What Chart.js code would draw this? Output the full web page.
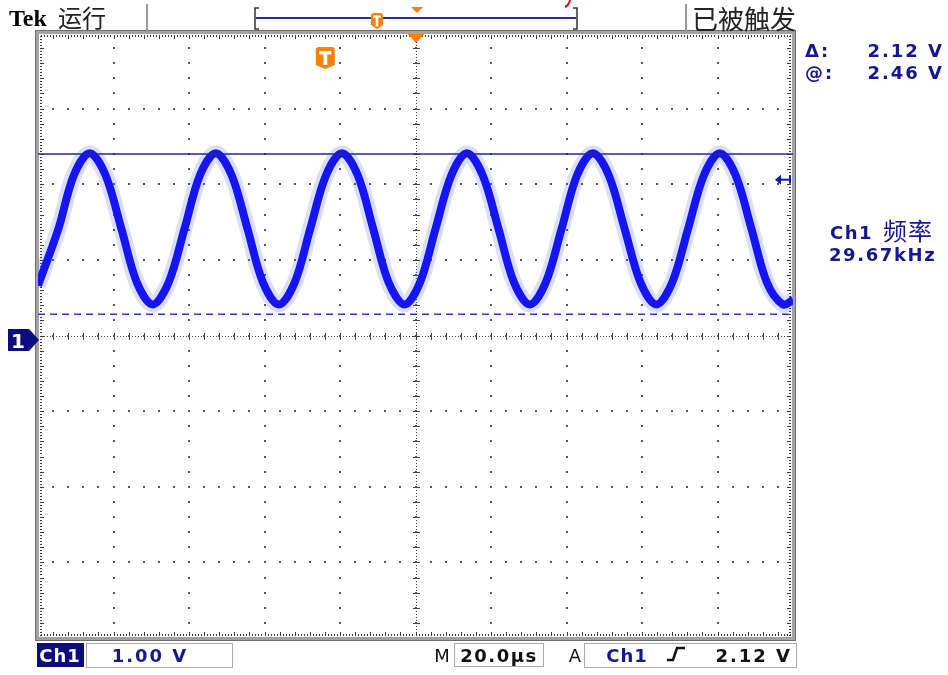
<!DOCTYPE html>
<html>
<head>
<meta charset="utf-8">
<script src="https://cdn.jsdelivr.net/npm/chart.js@4.4.0/dist/chart.umd.min.js"></script>
<style>html,body{margin:0;padding:0;background:#fff;overflow:hidden}</style>
</head>
<body>
<canvas id="scope" width="948" height="675"></canvas>
<script>
// Ch1 trace: time in us (0 = trigger / centre), volts
var timeUs = [-100, -94.6, -90.5, -86.3, -82.1, -77.9, -73.8, -69.6, -65.4, -61.2, -57.1, -52.9,
  -48.7, -44.5, -40.4, -36.2, -32.0, -27.9, -23.7, -19.5, -15.3, -11.2, -7.1, -2.9, 1.2, 5.3,
  9.5, 13.6, 17.8, 22.0, 26.1, 30.3, 34.5, 38.7, 42.8, 47.0, 51.2, 55.4, 59.6, 63.8, 68.0,
  72.2, 76.4, 80.6, 84.8, 89.0, 93.1, 97.3, 100];
var ch1Volts = [0.72, 1.47, 2.18, 2.47, 2.18, 1.47, 0.76, 0.47, 0.76, 1.47, 2.18, 2.47,
  2.18, 1.47, 0.76, 0.47, 0.76, 1.47, 2.18, 2.47, 2.18, 1.47, 0.76, 0.47, 0.76, 1.47,
  2.18, 2.47, 2.18, 1.47, 0.76, 0.47, 0.76, 1.47, 2.18, 2.47, 2.18, 1.47, 0.76, 0.47, 0.76,
  1.47, 2.18, 2.47, 2.18, 1.47, 0.76, 0.47, 0.53];

var cursorVolts = [2.46, 0.34];   // solid, dashed
var trigLevel = 2.12;
var triggerMarkUs = -23.9;        // orange T in the graticule
var xRange = [-100, 100];         // 10 div x 20 us
var yRange = [-3.94, 4.06];       // 8 div x 1 V, ground a bit below centre

var blue = '#16168f';

function wavePoints() {
  var pts = [];
  for (var i = 0; i < timeUs.length; i++) pts.push({x: timeUs[i], y: ch1Volts[i]});
  return pts;
}
function hLine(v) {
  return [{x: xRange[0], y: v}, {x: xRange[1], y: v}];
}

function txt(ctx, s, x, y, font, color, align, spacing) {
  ctx.font = font;
  ctx.fillStyle = color;
  ctx.textAlign = align || 'left';
  ctx.textBaseline = 'alphabetic';
  ctx.letterSpacing = spacing || '0px';
  ctx.fillText(s, x, y);
  ctx.letterSpacing = '0px';
}

// graticule: dotted grid, centre crosshair, ruler frame
var graticule = {
  id: 'graticule',
  beforeDatasetsDraw: function(chart) {
    var ctx = chart.ctx, xs = chart.scales.x, ys = chart.scales.y, a = chart.chartArea;
    var dx = (xRange[1] - xRange[0]) / 10, dy = (yRange[1] - yRange[0]) / 8;
    var i, j, px, py;
    ctx.save();
    ctx.fillStyle = '#555';
    // dots on major lines every 1/5 div
    for (i = 1; i < 10; i++) {
      px = Math.round(xs.getPixelForValue(xRange[0] + i * dx));
      for (j = 0; j <= 40; j++) {
        py = Math.round(ys.getPixelForValue(yRange[0] + j * dy / 5));
        ctx.fillRect(px - 1, py - 1, 2, 2);
      }
    }
    for (j = 1; j < 8; j++) {
      py = Math.round(ys.getPixelForValue(yRange[0] + j * dy));
      for (i = 0; i <= 50; i++) {
        px = Math.round(xs.getPixelForValue(xRange[0] + i * dx / 5));
        ctx.fillRect(px - 1, py - 1, 2, 2);
      }
    }
    // centre crosshair, dense dots + ticks
    var cx = Math.round(xs.getPixelForValue((xRange[0] + xRange[1]) / 2));
    var cy = Math.round(ys.getPixelForValue((yRange[0] + yRange[1]) / 2));
    ctx.fillStyle = '#444';
    for (i = 0; i <= 250; i++) {
      px = Math.round(xs.getPixelForValue(xRange[0] + i * dx / 25));
      ctx.fillRect(px, cy, 1, 1);
      if (i % 5 === 0) ctx.fillRect(px, cy - 3, 1, 7);
    }
    for (j = 0; j <= 200; j++) {
      py = Math.round(ys.getPixelForValue(yRange[0] + j * dy / 25));
      ctx.fillRect(cx, py, 1, 1);
      if (j % 5 === 0) ctx.fillRect(cx - 3, py, 7, 1);
    }
    // ruler ticks along the frame
    ctx.fillStyle = '#3a3a3a';
    for (i = 0; i <= 250; i++) {
      px = Math.round(xs.getPixelForValue(xRange[0] + i * dx / 25));
      var lx = (i % 5 === 0) ? 4 : 2;
      ctx.fillRect(px, a.top + 2, 1, lx);
      ctx.fillRect(px, a.bottom - 2 - lx, 1, lx);
    }
    for (j = 0; j <= 200; j++) {
      py = Math.round(ys.getPixelForValue(yRange[0] + j * dy / 25));
      var ly = (j % 5 === 0) ? 4 : 2;
      ctx.fillRect(a.left + 2, py, ly, 1);
      ctx.fillRect(a.right - 2 - ly, py, ly, 1);
    }
    // frame band
    ctx.strokeStyle = '#a3a3a3';
    ctx.lineWidth = 4;
    ctx.strokeRect(a.left - 1, a.top - 1, a.right - a.left + 2, a.bottom - a.top + 2);
    ctx.strokeStyle = '#6e6e6e';
    ctx.lineWidth = 1;
    ctx.strokeRect(a.left - 2.5, a.top - 2.5, a.right - a.left + 5, a.bottom - a.top + 5);
    ctx.restore();
  },
  afterDraw: function(chart) {
    var ctx = chart.ctx, xs = chart.scales.x, ys = chart.scales.y, a = chart.chartArea;
    var orange = '#ff7f00';
    ctx.save();
    // header
    txt(ctx, 'Tek', 9, 26, 'bold 24px "Liberation Serif"', '#000');
    txt(ctx, '运行', 58, 27, '24px "Noto Sans CJK SC"', '#222');
    txt(ctx, '已被触发', 692, 29, '26px "Noto Sans CJK SC"', '#222');
    ctx.fillStyle = '#9a9a9a';
    ctx.fillRect(146, 4, 2, 29);
    ctx.fillRect(685, 4, 2, 29);

    // record view bar
    ctx.strokeStyle = '#2a2aa8';
    ctx.lineWidth = 2;
    ctx.beginPath(); ctx.moveTo(256, 18); ctx.lineTo(576, 18); ctx.stroke();
    ctx.strokeStyle = '#333';
    ctx.lineWidth = 1.5;
    ctx.beginPath();
    ctx.moveTo(259, 8); ctx.lineTo(255, 8); ctx.lineTo(255, 29); ctx.lineTo(259, 29);
    ctx.moveTo(573, 8); ctx.lineTo(577, 8); ctx.lineTo(577, 29); ctx.lineTo(573, 29);
    ctx.stroke();
    drawTag(ctx, 377, 13, 12, 16, orange);
    ctx.fillStyle = orange;
    ctx.beginPath(); ctx.moveTo(411, 7); ctx.lineTo(423, 7); ctx.lineTo(417, 13); ctx.fill();
    ctx.strokeStyle = '#d01010';
    ctx.lineWidth = 2;
    ctx.beginPath(); ctx.moveTo(570, 0); ctx.quadraticCurveTo(569, 5, 565, 7); ctx.stroke();

    // trigger position on graticule
    var tx = xs.getPixelForValue(0);
    ctx.fillStyle = orange;
    ctx.beginPath(); ctx.moveTo(tx - 8, a.top + 1); ctx.lineTo(tx + 9, a.top + 1); ctx.lineTo(tx + 0.5, a.top + 10); ctx.fill();
    drawTag(ctx, xs.getPixelForValue(triggerMarkUs), 47, 19, 22, orange);

    // trigger level arrow on the right
    var ty = ys.getPixelForValue(trigLevel);
    ctx.fillStyle = '#1818a8';
    ctx.beginPath(); ctx.moveTo(775, ty); ctx.lineTo(781, ty - 5); ctx.lineTo(781, ty + 5); ctx.fill();
    ctx.fillRect(780, ty - 1, 10, 2);
    ctx.fillRect(789, ty - 4, 2, 8);

    // ground marker "1"
    var gy = ys.getPixelForValue(0);
    ctx.fillStyle = '#0c0c80';
    ctx.beginPath();
    ctx.moveTo(8, gy - 11); ctx.lineTo(29, gy - 11); ctx.lineTo(39, gy); ctx.lineTo(29, gy + 11); ctx.lineTo(8, gy + 11);
    ctx.closePath(); ctx.fill();
    txt(ctx, '1', 18, gy + 8, 'bold 20px "DejaVu Sans"', '#fff', 'center');

    // readouts
    var rf = 'bold 18px "DejaVu Sans"';
    txt(ctx, 'Δ:', 805, 57, rf, blue, 'left', '2px');
    txt(ctx, '2.12 V', 944, 57, rf, blue, 'right', '2px');
    txt(ctx, '@:', 805, 79, rf, blue, 'left', '2px');
    txt(ctx, '2.46 V', 944, 79, rf, blue, 'right', '2px');
    txt(ctx, 'Ch1', 830, 239, rf, blue, 'left', '1.5px');
    txt(ctx, '频率', 883, 240, '24px "Noto Sans CJK SC"', blue, 'left', '1px');
    txt(ctx, '29.67kHz', 829, 261, rf, blue, 'left', '1.6px');

    // bottom status line
    ctx.fillStyle = '#0c0c80';
    ctx.fillRect(37, 643, 47, 24);
    txt(ctx, 'Ch1', 60, 662, rf, '#fff', 'center', '1px');
    ctx.strokeStyle = '#aaa';
    ctx.lineWidth = 1;
    ctx.strokeRect(86.5, 643.5, 146, 24);
    txt(ctx, '1.00 V', 150, 662, rf, blue, 'center', '2px');
    txt(ctx, 'M', 442, 662, '18px "DejaVu Sans"', '#111', 'center');
    ctx.strokeRect(454.5, 643.5, 89, 23);
    txt(ctx, '20.0µs', 499, 662, rf, '#111', 'center', '1.5px');
    txt(ctx, 'A', 575, 662, '18px "DejaVu Sans"', '#111', 'center');
    ctx.strokeRect(584.5, 643.5, 212, 24);
    txt(ctx, 'Ch1', 627, 662, rf, blue, 'center', '1px');
    ctx.strokeStyle = '#111';
    ctx.lineWidth = 2.5;
    ctx.beginPath(); ctx.moveTo(667, 660); ctx.lineTo(673, 660); ctx.lineTo(677, 648); ctx.lineTo(685, 648); ctx.stroke();
    txt(ctx, '2.12 V', 792, 662, rf, '#111', 'right', '2px');
    ctx.restore();
  }
};

function drawTag(ctx, cx, top, w, h, color) {
  var l = cx - w / 2, r = cx + w / 2, b = top + h;
  ctx.fillStyle = color;
  ctx.beginPath();
  ctx.moveTo(l + 3, top); ctx.lineTo(r - 3, top); ctx.quadraticCurveTo(r, top, r, top + 3);
  ctx.lineTo(r, b - 4); ctx.lineTo(cx, b); ctx.lineTo(l, b - 4); ctx.lineTo(l, top + 3);
  ctx.quadraticCurveTo(l, top, l + 3, top);
  ctx.fill();
  ctx.fillStyle = '#fff';
  var s = w / 19;
  ctx.fillRect(cx - 6 * s, top + 4 * s, 12 * s, 3.5 * s);
  ctx.fillRect(cx - 2 * s, top + 4 * s, 4 * s, h - 8 * s);
}

var ctx = document.getElementById('scope');
var scope = new Chart(ctx, {
  type: 'line',
  data: {
    datasets: [
      { data: hLine(cursorVolts[0]), borderColor: '#26269a', borderWidth: 1.5, pointRadius: 0 },
      { data: hLine(cursorVolts[1]), borderColor: '#3434c8', borderWidth: 1.5, borderDash: [7, 5], pointRadius: 0 },
      { data: wavePoints(), borderColor: '#1414f4', borderWidth: 8, tension: 0.33, pointRadius: 0 },
      { data: wavePoints(), borderColor: 'rgba(70,90,255,0.2)', borderWidth: 16, tension: 0.33, pointRadius: 0 }
    ]
  },
  options: {
    responsive: false,
    animation: false,
    devicePixelRatio: 1,
    layout: { padding: { left: 38, top: 33, right: 155, bottom: 37 } },
    plugins: { legend: { display: false }, tooltip: { enabled: false } },
    scales: {
      x: { type: 'linear', display: false, min: xRange[0], max: xRange[1] },
      y: { type: 'linear', display: false, min: yRange[0], max: yRange[1] }
    }
  },
  plugins: [graticule]
});
</script>
</body>
</html>
